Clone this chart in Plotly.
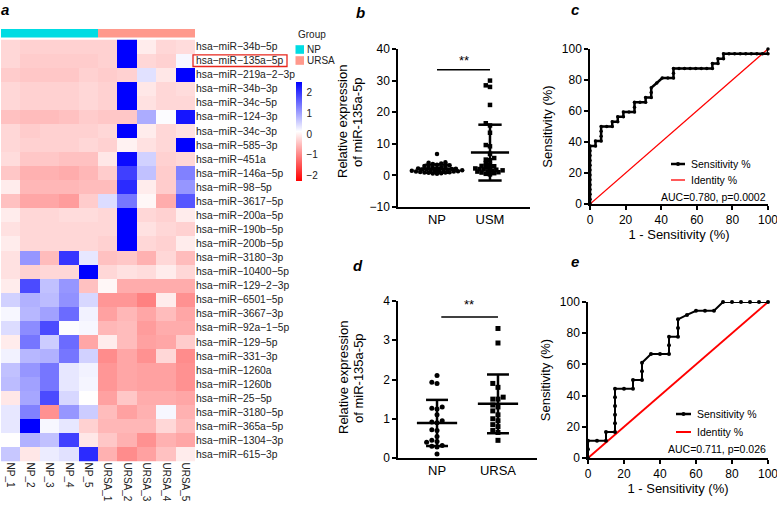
import numpy as np
import plotly.graph_objects as go

W, H = 777, 506
FONT = "Arial, 'Liberation Sans', sans-serif"

# ── panel a: heatmap ─────────────────────────────────────
mirnas = [
    "hsa-miR-34b-5p", "hsa-miR-135a-5p", "hsa-miR-219a-2-3p", "hsa-miR-34b-3p",
    "hsa-miR-34c-5p", "hsa-miR-124-3p", "hsa-miR-34c-3p", "hsa-miR-585-3p",
    "hsa-miR-451a", "hsa-miR-146a-5p", "hsa-miR-98-5p", "hsa-miR-3617-5p",
    "hsa-miR-200a-5p", "hsa-miR-190b-5p", "hsa-miR-200b-5p", "hsa-miR-3180-3p",
    "hsa-miR-10400-5p", "hsa-miR-129-2-3p", "hsa-miR-6501-5p", "hsa-miR-3667-3p",
    "hsa-miR-92a-1-5p", "hsa-miR-129-5p", "hsa-miR-331-3p", "hsa-miR-1260a",
    "hsa-miR-1260b", "hsa-miR-25-5p", "hsa-miR-3180-5p", "hsa-miR-365a-5p",
    "hsa-miR-1304-3p", "hsa-miR-615-3p",
]
samples = ["NP_1", "NP_2", "NP_3", "NP_4", "NP_5",
           "URSA_1", "URSA_2", "URSA_3", "URSA_4", "URSA_5"]
sample_group = [0, 0, 0, 0, 0, 1, 1, 1, 1, 1]   # 0 = NP, 1 = URSA

expr = [
    [-0.25, -0.3, -0.3, -0.3, -0.3, -0.3, 2.5, -0.05, -0.25, -0.2],
    [-0.25, -0.35, -0.35, -0.35, -0.35, -0.3, 2.5, -0.25, -0.3, 0.2],
    [-0.35, -0.4, -0.4, -0.4, -0.3, -0.35, -0.3, 0.4, -0.1, 2.5],
    [-0.25, -0.3, -0.3, -0.3, -0.25, -0.3, 2.5, -0.1, -0.25, -0.2],
    [-0.25, -0.3, -0.3, -0.3, -0.25, -0.3, 2.5, -0.15, -0.25, -0.25],
    [-0.45, -0.5, -0.5, -0.45, -0.35, -0.4, -0.4, 0.9, 0.15, 2.3],
    [-0.25, -0.35, -0.3, -0.3, -0.3, -0.25, 2.5, -0.05, -0.25, -0.15],
    [-0.25, -0.3, -0.3, -0.3, -0.25, -0.3, 0.0, -0.15, -0.25, 2.5],
    [-0.2, -0.4, -0.4, -0.45, -0.45, -0.1, 2.4, 0.55, -0.3, -0.25],
    [-0.4, -0.6, -0.6, -0.65, -0.55, -0.35, 1.9, 0.7, -0.35, 1.3],
    [-0.05, -0.55, -0.55, -0.55, -0.5, -0.5, 2.1, -0.05, -0.35, 1.1],
    [-0.45, -0.7, -0.7, -0.8, -0.35, 0.45, 1.4, 0.05, -0.65, 1.7],
    [-0.05, -0.25, -0.25, -0.2, -0.2, -0.25, 2.5, -0.25, -0.3, -0.05],
    [-0.15, -0.25, -0.25, -0.25, -0.25, -0.25, 2.5, -0.15, -0.25, -0.3],
    [-0.05, -0.25, -0.25, -0.25, -0.25, -0.3, 2.5, -0.25, -0.3, -0.05],
    [-0.15, 1.1, -0.5, 2.0, 0.35, -0.45, -0.4, -0.6, -0.25, -0.5],
    [-0.15, -0.3, -0.25, -0.25, 2.5, -0.25, -0.15, -0.2, -0.05, -0.25],
    [-0.05, 1.8, 0.7, 1.1, -0.45, 0.05, -0.65, -0.65, -0.65, -0.65],
    [0.55, 0.85, 0.75, 1.15, 0.5, -0.85, -0.85, -1.05, -0.05, -0.9],
    [0.2, 0.8, 1.0, 1.5, 0.25, -0.75, -0.55, -0.7, -0.5, -0.7],
    [0.45, 1.2, 1.8, 0.15, 0.2, -0.55, -0.5, -0.8, -0.65, -0.65],
    [-0.05, 1.4, 0.6, 1.5, -0.7, -0.05, -0.5, -0.75, -0.7, -0.35],
    [0.25, 0.8, 0.85, 1.4, 0.55, -0.95, -0.7, -0.9, -0.25, -0.95],
    [0.7, 1.1, 1.4, 0.35, 0.25, -0.85, -0.7, -0.75, -0.75, -0.9],
    [0.75, 1.0, 1.4, 0.35, 0.22, -0.85, -0.7, -0.75, -0.75, -0.9],
    [-0.1, 0.95, 1.8, 0.5, 0.12, -0.75, -0.4, -0.65, -0.65, -0.7],
    [0.35, 1.3, -0.9, 1.1, 0.6, -0.5, -0.75, -0.6, 0.2, -0.6],
    [0.35, 2.5, 0.2, 0.35, -0.3, -0.55, -0.55, -0.55, -0.25, -0.5],
    [0.12, 0.85, 0.7, 1.9, -0.1, -0.4, -0.6, -0.9, -0.6, -0.7],
    [0.65, -0.1, 0.3, 0.4, 2.1, -0.6, -0.95, -0.75, -0.45, -0.05],
]

# ── panel b: NP vs USM ───────────────────────────────────
np_b = [6.8, 4.2, 4.0, 3.8, 3.6, 3.4, 3.2, 3.0, 2.9, 2.7, 2.6, 2.5, 2.3, 2.2, 2.1, 2.0,
        1.9, 1.85, 1.8, 1.7, 1.65, 1.6, 1.5, 1.45, 1.4, 1.3, 1.25, 1.2, 1.1, 1.0, 0.95,
        0.9, 0.8, 0.7, 0.6, 0.5]
usm_b = [30.0, 28.5, 28.0, 22.3, 16.5, 15.8, 13.5, 9.6, 9.2, 6.8, 5.5, 5.0, 4.8, 3.9,
         3.5, 3.0, 2.9, 2.7, 2.4, 2.2, 2.0, 1.9, 1.8, 1.6, 1.5, 1.3, 1.2, 1.0, 0.9, 0.7,
         0.5, 0.3]

# ── panel d: NP vs URSA ──────────────────────────────────
np_d = [2.1, 1.93, 1.9, 1.3, 1.27, 1.25, 1.1, 0.95, 0.92, 0.9, 0.72, 0.7, 0.55, 0.45,
        0.42, 0.4, 0.32, 0.3, 0.28, 0.1]
ursa_d = [3.3, 2.93, 1.9, 1.8, 1.55, 1.5, 1.5, 1.35, 1.3, 1.2, 1.1, 1.0, 0.95, 0.85,
          0.8, 0.7, 0.65, 0.45]

# ── panel c / e: ROC ─────────────────────────────────────
roc_c_fpr = [0, 0, 0, 0, 0, 0, 0, 0, 0, 0, 0, 0, 0,
             3.1, 3.1, 6.25, 6.25, 6.25, 6.25, 9.4, 12.5, 12.5, 15.6, 15.6, 18.75, 18.75,
             21.9, 25, 25, 25, 28.1, 31.25, 31.25, 34.4, 34.4, 34.4, 37.5, 40.6, 43.75,
             46.9, 46.9, 46.9, 50, 53.1, 56.25, 59.4, 62.5, 65.6, 68.75, 68.75, 71.9, 71.9,
             75, 75, 78.1, 81.25, 84.4, 87.5, 90.6, 93.75, 96.9, 100, 100]
roc_c_sens = [0, 3.1, 6.25, 9.4, 12.5, 15.6, 18.75, 21.9, 25, 28.1, 31.25, 34.4, 37.5,
              37.5, 40.6, 40.6, 43.75, 46.9, 50, 50, 50, 53.1, 53.1, 56.25, 56.25, 59.4,
              59.4, 59.4, 62.5, 65.6, 65.6, 65.6, 68.75, 68.75, 71.9, 75, 78.1, 81.25, 81.25,
              81.25, 84.4, 87.5, 87.5, 87.5, 87.5, 87.5, 87.5, 87.5, 87.5, 90.6, 90.6, 93.75,
              93.75, 96.9, 96.9, 96.9, 96.9, 96.9, 96.9, 96.9, 96.9, 96.9, 100]
roc_e_fpr = [0, 0, 0, 5, 10, 10, 15, 15, 15, 15, 15, 15, 20, 25, 25, 30, 30, 30,
             35, 40, 45, 45, 45, 50, 50, 50, 55, 60, 65, 70, 75, 80, 85, 90, 95, 100]
roc_e_sens = [0, 5.6, 11.1, 11.1, 11.1, 16.7, 16.7, 22.2, 27.8, 33.3, 38.9, 44.4, 44.4,
              44.4, 50, 50, 55.6, 61.1, 66.7, 66.7, 66.7, 72.2, 77.8, 77.8, 83.3, 88.9,
              91.7, 94.4, 94.4, 94.4, 100, 100, 100, 100, 100, 100]
identity = [0, 100]


def swarm(vals, px_x, px_y, diam, step):
    """simple beeswarm: x offsets (in axis units) so markers don't overlap"""
    vals = np.asarray(vals, float)
    placed, offs = [], np.zeros(len(vals))
    for i in np.argsort(vals):
        py = vals[i] * px_y
        k, found = 0, None
        while found is None:
            cands = [0.0] if k == 0 else [k * step, -k * step]
            if k % 2 == 0:
                cands = cands[::-1]
            for c in cands:
                if all((c - qx) ** 2 + (py - qy) ** 2 >= diam ** 2 for qx, qy in placed):
                    found = c
                    break
            k += 1
        placed.append((found, py))
        offs[i] = found / px_x
    return offs


def sd_bars(vals, x, half_mean, half_cap):
    m, s = np.mean(vals), np.std(vals, ddof=1)
    xs = [x - half_mean, x + half_mean, None, x, x, None,
          x - half_cap, x + half_cap, None, x - half_cap, x + half_cap]
    ys = [m, m, None, m - s, m + s, None, m + s, m + s, None, m - s, m - s]
    return xs, ys


def px_x(p):
    return p / W


def px_y(p):
    return 1 - p / H


def note(text, x, y, size=10.5, xanchor="left", color="black", angle=0):
    return dict(text=text, x=px_x(x), y=px_y(y), xref="paper", yref="paper",
                xanchor=xanchor, yanchor="middle", showarrow=False, textangle=angle,
                font=dict(size=size, color=color))


fig = go.Figure()

# heatmap
fig.add_trace(go.Heatmap(
    z=expr, x=list(range(len(samples))), y=list(range(len(mirnas))),
    colorscale=[[0, "#FF0000"], [0.5, "#FFFFFF"], [1, "#0000FF"]],
    zmin=-2.25, zmax=2.5, xaxis="x", yaxis="y", hoverinfo="skip",
    colorbar=dict(
        x=px_x(296), xanchor="left", y=px_y(82), yanchor="top",
        len=99 / H, lenmode="fraction", thickness=6, outlinewidth=0,
        xpad=0, ypad=0, tickvals=[-2, -1, 0, 1, 2],
        ticks="outside", ticklen=3, tickcolor="rgba(0,0,0,0)",
        tickfont=dict(size=10, color="#222"),
    ),
))
# group annotation bar
fig.add_trace(go.Heatmap(
    z=[sample_group], x=list(range(len(samples))), y=[0],
    colorscale=[[0, "#00DCE3"], [0.5, "#00DCE3"], [0.5, "#FF998C"], [1, "#FF998C"]],
    zmin=0, zmax=1, showscale=False, xaxis="x2", yaxis="y2", hoverinfo="skip",
))

# panel b
for vals, xc, sym in [(np_b, 0, "circle"), (usm_b, 1, "square")]:
    off = swarm(vals, 53, 158 / 50, 3.2, 2.1)
    fig.add_trace(go.Scatter(
        x=xc + off, y=vals, mode="markers", xaxis="x3", yaxis="y3",
        marker=dict(symbol=sym, size=4.5, color="black"), cliponaxis=False,
    ))
    xs, ys = sd_bars(vals, xc, 0.36, 0.22)
    fig.add_trace(go.Scatter(x=xs, y=ys, mode="lines", xaxis="x3", yaxis="y3",
                             line=dict(color="black", width=2.5), cliponaxis=False))
fig.add_trace(go.Scatter(x=[0, 1], y=[33.4, 33.4], mode="lines", xaxis="x3", yaxis="y3",
                         line=dict(color="black", width=1.5)))

# panel d
for vals, xc, sym in [(np_d, 0, "circle"), (ursa_d, 1, "square")]:
    off = swarm(vals, 61, 157 / 4, 5.0, 2.6)
    fig.add_trace(go.Scatter(
        x=xc + off, y=vals, mode="markers", xaxis="x5", yaxis="y5",
        marker=dict(symbol=sym, size=5, color="black"), cliponaxis=False,
    ))
    xs, ys = sd_bars(vals, xc, 0.33, 0.18)
    fig.add_trace(go.Scatter(x=xs, y=ys, mode="lines", xaxis="x5", yaxis="y5",
                             line=dict(color="black", width=2.5), cliponaxis=False))
fig.add_trace(go.Scatter(x=[0.07, 1], y=[3.59, 3.59], mode="lines", xaxis="x5", yaxis="y5",
                         line=dict(color="black", width=1.5)))

# panel c
fig.add_trace(go.Scatter(x=identity, y=identity, mode="lines", xaxis="x4", yaxis="y4",
                         line=dict(color="#FF0000", width=1.3), cliponaxis=False))
fig.add_trace(go.Scatter(x=roc_c_fpr, y=roc_c_sens, mode="lines+markers",
                         xaxis="x4", yaxis="y4", cliponaxis=False,
                         line=dict(color="black", width=2.5),
                         marker=dict(size=3.5, color="black")))
# panel e
fig.add_trace(go.Scatter(x=identity, y=identity, mode="lines", xaxis="x6", yaxis="y6",
                         line=dict(color="#FF0000", width=2), cliponaxis=False))
fig.add_trace(go.Scatter(x=roc_e_fpr, y=roc_e_sens, mode="lines+markers",
                         xaxis="x6", yaxis="y6", cliponaxis=False,
                         line=dict(color="black", width=2),
                         marker=dict(size=4, color="black")))

axis_common = dict(showline=True, linecolor="black", linewidth=1.5, showgrid=False,
                   zeroline=False, ticks="outside", ticklen=4, tickwidth=1.5,
                   tickcolor="black", tickfont=dict(size=12, color="black"),
                   automargin=False, ticklabeloverflow="allow")
title_font = dict(size=13, color="black")

fig.update_layout(
    width=W, height=H, margin=dict(l=0, r=0, t=0, b=0, autoexpand=False),
    paper_bgcolor="white", plot_bgcolor="white", showlegend=False,
    font=dict(family=FONT, color="black"),

    xaxis=dict(domain=[px_x(1), px_x(195)], range=[-0.5, 9.5], anchor="y",
               tickvals=list(range(len(samples))), ticktext=samples, tickangle=90,
               ticks="", showgrid=False, zeroline=False, showline=False,
               automargin=False, ticklabeloverflow="allow",
               tickfont=dict(size=10, color="#222")),
    yaxis=dict(domain=[px_y(461.5), px_y(39.5)], range=[len(mirnas) - 0.5, -0.5],
               anchor="x", side="right", tickvals=list(range(len(mirnas))),
               ticktext=[m.replace("-", "\u2212") for m in mirnas], ticks="",
               showgrid=False, zeroline=False, showline=False,
               automargin=False, ticklabeloverflow="allow",
               tickfont=dict(size=10.3, color="#222")),
    xaxis2=dict(domain=[px_x(1), px_x(195)], range=[-0.5, 9.5], anchor="y2", visible=False,
                automargin=False),
    yaxis2=dict(domain=[px_y(37.5), px_y(29)], anchor="x2", visible=False, automargin=False),

    xaxis3=dict(axis_common, domain=[px_x(398), px_x(530)], range=[-0.736, 1.755],
                anchor="y3", tickvals=[0, 1], ticktext=["NP", "USM"], ticks="",
                tickfont=dict(size=13, color="black")),
    yaxis3=dict(axis_common, domain=[px_y(207), px_y(49)], range=[-10, 40], anchor="x3",
                tickvals=[-10, 0, 10, 20, 30, 40]),

    xaxis4=dict(axis_common, domain=[px_x(590), px_x(768)], range=[0, 100], anchor="y4",
                tickvals=[0, 20, 40, 60, 80, 100],
                title=dict(text="1 - Sensitivity (%)", font=title_font, standoff=4)),
    yaxis4=dict(axis_common, domain=[px_y(204), px_y(49)], range=[0, 100], anchor="x4",
                tickvals=[0, 20, 40, 60, 80, 100],
                title=dict(text="Sensitivity (%)", font=title_font, standoff=6)),

    xaxis5=dict(axis_common, domain=[px_x(398), px_x(537)], range=[-0.64, 1.64],
                anchor="y5", tickvals=[0, 1], ticktext=["NP", "URSA"], ticks="",
                tickfont=dict(size=13, color="black")),
    yaxis5=dict(axis_common, domain=[px_y(458), px_y(301)], range=[0, 4], anchor="x5",
                tickvals=[0, 1, 2, 3, 4]),

    xaxis6=dict(axis_common, domain=[px_x(588), px_x(768)], range=[0, 100], anchor="y6",
                tickvals=[0, 20, 40, 60, 80, 100],
                title=dict(text="1 - Sensitivity (%)", font=title_font, standoff=4)),
    yaxis6=dict(axis_common, domain=[px_y(458), px_y(302)], range=[0, 100], anchor="x6",
                tickvals=[0, 20, 40, 60, 80, 100],
                title=dict(text="Sensitivity (%)", font=title_font, standoff=6)),
)

# red box around miR-135a-5p
fig.add_shape(type="rect", xref="paper", yref="y", x0=px_x(193), x1=px_x(287),
              y0=0.6, y1=1.42, line=dict(color="#E8261C", width=1.3))

ann = []
# panel letters
for txt, x, y in [("a", 5, 9), ("b", 360, 13), ("c", 575, 9), ("d", 358, 265), ("e", 575, 261)]:
    ann.append(note(f"<b><i>{txt}</i></b>", x, y, size=15, xanchor="center"))

# y titles of the scatter panels (two lines each)
for yc in (122, 378):
    ann.append(note("Relative expression", 343, yc, size=13, xanchor="center", angle=-90))
    ann.append(note("of miR-135a-5p", 358, yc, size=13, xanchor="center", angle=-90))

# group legend
ann.append(note("Group", 296, 34, size=10, color="#222"))
for name, col, yc in [("NP", "#00DCE3", 49.5), ("URSA", "#FF998C", 60.5)]:
    fig.add_shape(type="rect", xref="paper", yref="paper", x0=px_x(295.5), x1=px_x(304),
                  y0=px_y(yc - 4.3), y1=px_y(yc + 4.3), fillcolor=col, line_width=0)
    ann.append(note(name, 304.5, yc, size=10, color="#222"))

# significance stars
ann.append(dict(text="**", x=0.5, y=36.3, xref="x3", yref="y3", showarrow=False,
                xanchor="center", yanchor="middle", font=dict(size=13)))
ann.append(dict(text="**", x=0.52, y=3.9, xref="x5", yref="y5", showarrow=False,
                xanchor="center", yanchor="middle", font=dict(size=13)))

# ROC legends
for (lx0, lx1, ys, yi, ya, auc, wid) in [
    (671, 685, 164, 180, 197, "AUC=0.780, p=0.0002", 1.3),
    (676, 691, 414, 432, 449, "AUC=0.711, p=0.026", 2),
]:
    fig.add_shape(type="line", xref="paper", yref="paper", x0=px_x(lx0), x1=px_x(lx1),
                  y0=px_y(ys), y1=px_y(ys), line=dict(color="black", width=2.5))
    fig.add_shape(type="circle", xref="paper", yref="paper",
                  x0=px_x((lx0 + lx1) / 2 - 2), x1=px_x((lx0 + lx1) / 2 + 2),
                  y0=px_y(ys - 2), y1=px_y(ys + 2), fillcolor="black", line_width=0)
    fig.add_shape(type="line", xref="paper", yref="paper", x0=px_x(lx0), x1=px_x(lx1),
                  y0=px_y(yi), y1=px_y(yi), line=dict(color="#FF0000", width=wid))
    for txt, yy in [("Sensitivity %", ys), ("Identity %", yi)]:
        ann.append(note(txt, lx1 + 4, yy))
    ann.append(note(auc, 768, ya, xanchor="right"))

fig.update_layout(annotations=ann)

# page body has a default 8px margin; drop it so the figure sits at the top-left
fig.write_html("out.html", config={"displayModeBar": False},
               post_script="document.body.style.margin='0';")
